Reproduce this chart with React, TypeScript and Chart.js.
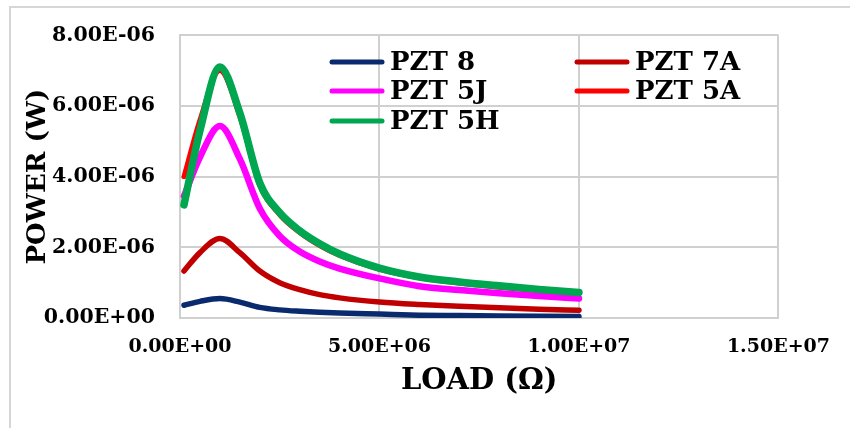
import React, { useEffect, useRef } from "react";
import { Chart, registerables } from "chart.js";

Chart.register(...registerables);

// ---- data ----
const loads = [1e5, 5e5, 1e6, 1.5e6, 2e6, 2.5e6, 3e6, 3.5e6, 4e6, 5e6, 6e6, 7e6, 8e6, 9e6, 1e7];
const pzt8 = [0.36e-6, 0.47e-6, 0.55e-6, 0.45e-6, 0.3e-6, 0.23e-6, 0.19e-6, 0.16e-6, 0.14e-6, 0.11e-6, 0.08e-6, 0.07e-6, 0.06e-6, 0.05e-6, 0.04e-6];
const pzt7a = [1.33e-6, 1.85e-6, 2.25e-6, 1.85e-6, 1.33e-6, 1.0e-6, 0.8e-6, 0.66e-6, 0.57e-6, 0.45e-6, 0.38e-6, 0.33e-6, 0.29e-6, 0.25e-6, 0.22e-6];
const pzt5j = [3.45e-6, 4.55e-6, 5.43e-6, 4.5e-6, 3.1e-6, 2.32e-6, 1.88e-6, 1.6e-6, 1.4e-6, 1.12e-6, 0.9e-6, 0.79e-6, 0.7e-6, 0.62e-6, 0.55e-6];
const pzt5a = [4.0e-6, 5.6e-6, 7.0e-6, 5.7e-6, 3.75e-6, 2.92e-6, 2.42e-6, 2.05e-6, 1.77e-6, 1.38e-6, 1.14e-6, 0.99e-6, 0.87e-6, 0.77e-6, 0.69e-6];
const pzt5h = [3.2e-6, 5.3e-6, 7.1e-6, 5.8e-6, 3.82e-6, 2.98e-6, 2.47e-6, 2.1e-6, 1.81e-6, 1.41e-6, 1.16e-6, 1.02e-6, 0.91e-6, 0.81e-6, 0.72e-6];

const seriesNames = ["PZT 8", "PZT 7A", "PZT 5J", "PZT 5A", "PZT 5H"];
const seriesValues = [pzt8, pzt7a, pzt5j, pzt5a, pzt5h];
const seriesColors = ["#0a2a6e", "#c00000", "#ff00ff", "#ff0000", "#00a650"];
const seriesWidths = [5.5, 5.5, 6.5, 5, 7.5];
const seriesOrder = [1, 2, 3, 4, 0];

const xTicks = [0, 5e6, 1e7, 1.5e7];
const yTicks = [0, 2e-6, 4e-6, 6e-6, 8e-6];
const xTitle = "LOAD (Ω)";
const yTitle = "POWER (W)";

const FONT = "'DejaVu Serif', 'Liberation Serif', serif";
const GRID = "#d0d0d0";

function sci(v: number): string {
  const [m, e] = v.toExponential(2).split("e");
  const n = parseInt(e, 10);
  return `${m}E${n < 0 ? "-" : "+"}${String(Math.abs(n)).padStart(2, "0")}`;
}

const frameAndLegend = {
  id: "frameAndLegend",
  beforeDraw(chart: any) {
    const ctx = chart.ctx;
    ctx.save();
    ctx.fillStyle = "#ffffff";
    ctx.fillRect(0, 0, chart.width, chart.height);
    ctx.restore();
  },
  afterDraw(chart: any) {
    const ctx = chart.ctx;
    // outer chart frame (top and left edges visible)
    ctx.save();
    ctx.strokeStyle = "#d6d6d6";
    ctx.lineWidth = 2;
    ctx.beginPath();
    ctx.moveTo(10, chart.height);
    ctx.lineTo(10, 7);
    ctx.lineTo(chart.width, 7);
    ctx.stroke();
    ctx.restore();

    const slots = [
      [330, 62],
      [575, 62],
      [330, 91],
      [575, 91],
      [330, 121],
    ];
    ctx.save();
    ctx.font = `bold 26px ${FONT}`;
    ctx.textBaseline = "middle";
    ctx.textAlign = "left";
    chart.data.datasets.forEach((ds: any, i: number) => {
      const [x, y] = slots[i];
      ctx.strokeStyle = ds.borderColor;
      ctx.lineWidth = 5;
      ctx.lineCap = "round";
      ctx.beginPath();
      ctx.moveTo(x + 2, y);
      ctx.lineTo(x + 52, y);
      ctx.stroke();
      ctx.fillStyle = "#000000";
      ctx.fillText(ds.label, x + 60, y + 1);
    });
    ctx.restore();
  },
};

export default function App() {
  const ref = useRef<HTMLCanvasElement | null>(null);

  useEffect(() => {
    document.body.style.margin = "0";
    const canvas = ref.current;
    if (!canvas) return;
    const chart = new Chart(canvas, {
      type: "line",
      data: {
        datasets: seriesNames.map((name, i) => ({
          label: name,
          data: loads.map((x, j) => ({ x, y: seriesValues[i][j] })),
          borderColor: seriesColors[i],
          backgroundColor: seriesColors[i],
          borderWidth: seriesWidths[i],
          pointRadius: 0,
          fill: false,
          cubicInterpolationMode: "monotone",
          borderCapStyle: "round",
          borderJoinStyle: "round",
          order: seriesOrder[i],
        })),
      },
      options: {
        animation: false,
        responsive: false,
        maintainAspectRatio: false,
        layout: { padding: { left: 10, top: 29, right: 62, bottom: 0 } },
        plugins: {
          legend: { display: false },
          tooltip: { enabled: false },
        },
        scales: {
          x: {
            type: "linear",
            min: 0,
            max: 1.5e7,
            afterFit: (s: any) => {
              s.height = 110;
            },
            afterBuildTicks: (s: any) => {
              s.ticks = xTicks.map((v) => ({ value: v }));
            },
            ticks: {
              padding: 20,
              color: "#000000",
              font: { family: FONT, size: 19, weight: "bold", lineHeight: 1 },
              maxRotation: 0,
              callback: (v: any) => sci(Number(v)),
            },
            grid: { color: GRID, lineWidth: 2, drawTicks: false },
            border: { display: true, color: GRID, width: 2 },
            title: {
              display: true,
              text: xTitle,
              color: "#000000",
              font: { family: FONT, size: 29, weight: "bold", lineHeight: 1 },
              padding: { top: 0, bottom: 32 },
            },
          },
          y: {
            type: "linear",
            min: 0,
            max: 8e-6,
            afterFit: (s: any) => {
              s.width = 170;
            },
            afterBuildTicks: (s: any) => {
              s.ticks = yTicks.map((v) => ({ value: v }));
            },
            ticks: {
              padding: 25,
              color: "#000000",
              font: { family: FONT, size: 20.5, weight: "bold", lineHeight: 1 },
              callback: (v: any) => sci(Number(v)),
            },
            grid: { color: GRID, lineWidth: 2, drawTicks: false },
            border: { display: true, color: GRID, width: 2 },
            title: {
              display: true,
              text: yTitle,
              color: "#000000",
              font: { family: FONT, size: 26, weight: "bold", lineHeight: 1 },
              padding: { top: 15, bottom: 0 },
            },
          },
        },
      },
      plugins: [frameAndLegend],
    } as any);
    return () => chart.destroy();
  }, []);

  return (
    <div style={{ width: 850, height: 428 }}>
      <canvas ref={ref} width={850} height={428} style={{ display: "block" }} />
    </div>
  );
}
